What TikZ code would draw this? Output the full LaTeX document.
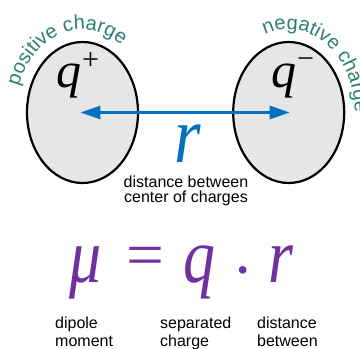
\documentclass[tikz,border=0pt]{standalone}
\usepackage{fontspec}
\setmainfont{Liberation Sans}
\newfontfamily\glyphserif{Liberation Serif}
\usetikzlibrary{shapes.geometric,arrows.meta,decorations.text}
\definecolor{chargeblue}{RGB}{0,112,192}
\definecolor{formpurple}{RGB}{112,48,160}
\definecolor{curvecol}{RGB}{42,128,115}
\definecolor{ballgray}{RGB}{230,230,230}
\newcommand\curvefont{\fontsize{20}{20}\selectfont}
\newcommand\sym[2]{{\fontsize{#1}{#1}\selectfont\glyphserif #2}}
\begin{document}
\begin{tikzpicture}[x=1pt,y=1pt,
  ball/.style={ellipse, draw=black, line width=2.2pt, fill=ballgray,
    minimum width=111pt, minimum height=141pt, inner sep=0pt},
  capt/.style={inner sep=0pt, align=center, font=\fontsize{16}{15}\selectfont},
  sublabel/.style={inner sep=0pt, align=left, font=\fontsize{16}{18}\selectfont},
  glyph/.style={inner sep=0pt},
  formula/.style={inner sep=0pt, text=formpurple},
  bent/.style={decorate, decoration={text along path, text align=center,
    text color=curvecol, text={|\curvefont|#1}}},
  dipolearrow/.style={line width=3pt, chargeblue,
    arrows={Triangle[length=20pt,width=13pt]-Triangle[length=20pt,width=13pt]}}]
\useasboundingbox (0,0) rectangle (360,349);

\node[ball] (L) at (82.5,236.5) {};
\node[ball] (R) at (288.7,236.5) {};

\path[bent=positive charge] (L.center) ++(165:67 and 83)
  arc[start angle=165, end angle=51, x radius=67, y radius=83];
\path[bent=negative charge] (R.center) ++(118:66 and 83)
  arc[start angle=118, end angle=-6, x radius=66, y radius=83];

\node[glyph, anchor=base west] (qp) at (56,261)
  {\sym{50}{\itshape q}\hspace{1pt}\raisebox{18pt}{\sym{30}{+}}};
\node[glyph, anchor=base west] (qm) at (271,261)
  {\sym{50}{\itshape q}\hspace{1pt}\raisebox{19pt}{\sym{30}{\char"2212}}};

\draw[dipolearrow, shorten <=-2pt, shorten >=-1pt] (L.center) -- (R.center);

\node[glyph, text=chargeblue, anchor=base] (r) at (188,186)
  {\scalebox{0.85}[1]{\sym{80}{\itshape r}}};
\node[capt, anchor=north] (rcapt) at (186,173) {distance between\\center of charges};

\node[formula, anchor=base] (mu) at (86,66) {\scalebox{0.82}[1]{\sym{78}{\itshape\char"03BC}}};
\node[formula, anchor=base] (eq) at (145.5,72) {\scalebox{1.05}[1]{\sym{64}{=}}};
\node[formula, anchor=base] (q) at (199,66) {\scalebox{0.82}[1]{\sym{78}{\itshape q}}};
\node[formula, anchor=base] (dot) at (243,57) {\sym{64}{\char"00B7}};
\node[formula, anchor=base] (rr) at (281,66) {\scalebox{0.82}[1]{\sym{78}{\itshape r}}};

\node[sublabel, anchor=north west] (l1) at (55,32) {dipole\\moment};
\node[sublabel, anchor=north west] (l2) at (160,32) {separated\\charge};
\node[sublabel, anchor=north west] (l3) at (257,32) {distance\\between};
\end{tikzpicture}
\end{document}
